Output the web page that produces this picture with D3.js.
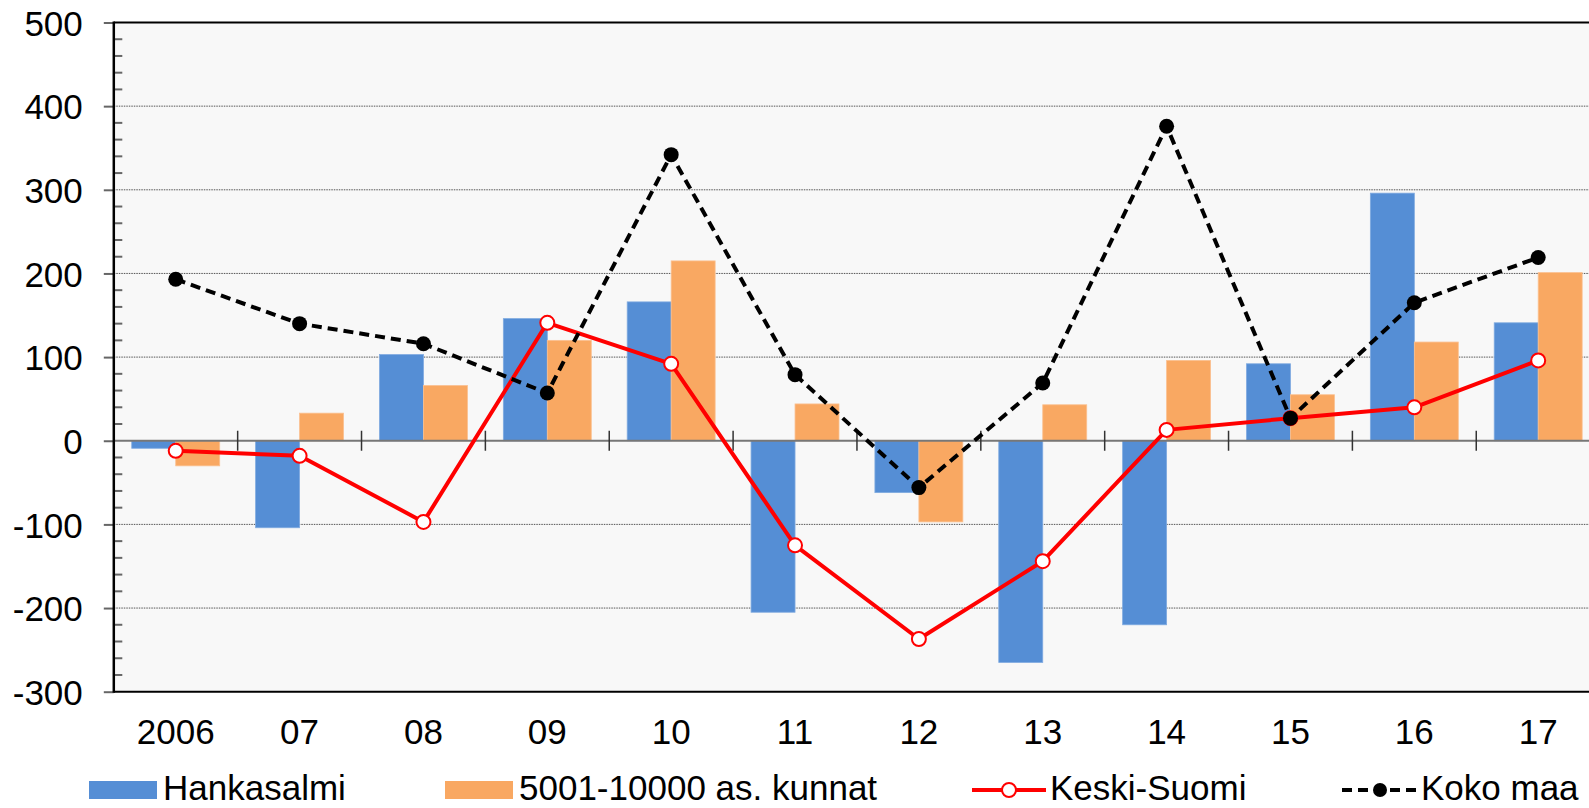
<!DOCTYPE html>
<html>
<head>
<meta charset="utf-8">
<script src="https://cdn.jsdelivr.net/npm/d3@7/dist/d3.min.js"></script>
<style>
html,body{margin:0;padding:0;background:#fff;}
svg{display:block;font-family:"Liberation Sans",Arial,sans-serif;}
</style>
</head>
<body>
<svg id="chart" width="1589" height="808"></svg>
<script>
const categories = ["2006","07","08","09","10","11","12","13","14","15","16","17"];
const hankasalmi = [-9,-104,103,146,166,-205,-62,-265,-220,92,296,141];
const kunnat = [-30,33,66,120,215,44,-97,43,96,55,118,201];
const keskiSuomi = [-12,-18,-97,141,92,-125,-237,-144,13,27,40,96];
const kokoMaa = [193,140,116,57,342,79,-56,69,376,27,165,219];
const yTicks = [500,400,300,200,100,0,-100,-200,-300];
const seriesNames = ["Hankasalmi","5001-10000 as. kunnat","Keski-Suomi","Koko maa"];

(function(){
const blue = "#558ed5", orange = "#f9a862", red = "#ff0000";
const FS = 35;
const svg = d3.select("#chart");
const pLeft = 113.8, pTop = 22.5, pBottom = 691.7;
const bandW = 123.86;
const x = d3.scaleBand().domain(categories).range([pLeft, pLeft + bandW * categories.length]).padding(0);
const y = d3.scaleLinear().domain([-300, 500]).range([pBottom, pTop]);
const cx = d => x(d) + x.bandwidth() / 2;
const barW = x.bandwidth() * 0.355;

svg.append("rect").attr("x", pLeft).attr("y", pTop).attr("width", 1589 - pLeft).attr("height", pBottom - pTop).attr("fill", "#f8f8f8");

svg.append("g").selectAll("line").data(yTicks.filter(v => v !== 0 && v !== 500 && v !== -300)).join("line")
  .attr("x1", pLeft).attr("x2", 1589).attr("y1", d => y(d)).attr("y2", d => y(d))
  .attr("stroke", "#555").attr("stroke-width", 1).attr("stroke-dasharray", "1.5,1");

const gb = svg.append("g");
gb.selectAll("rect.h").data(categories).join("rect").attr("class", "h")
  .attr("x", d => cx(d) - barW).attr("width", barW)
  .attr("y", (d, i) => y(Math.max(0, hankasalmi[i])))
  .attr("height", (d, i) => Math.abs(y(hankasalmi[i]) - y(0)))
  .attr("fill", blue).attr("stroke", "#7faae0").attr("stroke-width", 0.8);
gb.selectAll("rect.k").data(categories).join("rect").attr("class", "k")
  .attr("x", d => cx(d)).attr("width", barW)
  .attr("y", (d, i) => y(Math.max(0, kunnat[i])))
  .attr("height", (d, i) => Math.abs(y(kunnat[i]) - y(0)))
  .attr("fill", orange).attr("stroke", "#fbc090").attr("stroke-width", 0.8);

svg.append("line").attr("x1", pLeft).attr("x2", 1589).attr("y1", y(0)).attr("y2", y(0))
  .attr("stroke", "#777").attr("stroke-width", 2);

svg.append("g").selectAll("line").data(categories.slice(1)).join("line")
  .attr("x1", d => x(d)).attr("x2", d => x(d)).attr("y1", y(0) - 10).attr("y2", y(0) + 10)
  .attr("stroke", "#333").attr("stroke-width", 1.5);

const yAxis = d3.axisLeft(y).tickValues(yTicks).tickSize(10).tickFormat(d => String(d));
const ga = svg.append("g").attr("transform", `translate(${pLeft},0)`).call(yAxis);
ga.select(".domain").remove();
ga.selectAll(".tick line").attr("stroke", "#666").attr("stroke-width", 2);
ga.selectAll(".tick text").attr("font-size", FS).attr("fill", "#000").attr("x", -31).attr("dy", "0.36em")
  .attr("font-family", "Liberation Sans, Arial, sans-serif");
const minor = d3.range(-300, 501, 20).filter(v => v % 100 !== 0);
svg.append("g").selectAll("line").data(minor).join("line")
  .attr("x1", pLeft).attr("x2", pLeft + 8.5).attr("y1", d => y(d)).attr("y2", d => y(d))
  .attr("stroke", "#666").attr("stroke-width", 2);

svg.append("line").attr("x1", pLeft).attr("x2", pLeft).attr("y1", pTop - 1).attr("y2", pBottom + 1).attr("stroke", "#000").attr("stroke-width", 2.5);
svg.append("line").attr("x1", pLeft).attr("x2", 1589).attr("y1", pTop).attr("y2", pTop).attr("stroke", "#000").attr("stroke-width", 2);
svg.append("line").attr("x1", pLeft).attr("x2", 1589).attr("y1", pBottom).attr("y2", pBottom).attr("stroke", "#000").attr("stroke-width", 2);

svg.append("g").selectAll("text").data(categories).join("text")
  .attr("x", d => cx(d)).attr("y", 744).attr("text-anchor", "middle").attr("font-size", FS).text(d => d);

const line = d3.line().x(d => cx(d[0])).y(d => y(d[1]));
const ksData = categories.map((c, i) => [c, keskiSuomi[i]]);
const kmData = categories.map((c, i) => [c, kokoMaa[i]]);
svg.append("path").datum(ksData).attr("d", line).attr("fill", "none").attr("stroke", red).attr("stroke-width", 4).attr("stroke-linejoin", "round");
svg.append("g").selectAll("circle").data(ksData).join("circle")
  .attr("cx", d => cx(d[0])).attr("cy", d => y(d[1])).attr("r", 7)
  .attr("fill", "#fff").attr("stroke", red).attr("stroke-width", 2);
svg.append("path").datum(kmData).attr("d", line).attr("fill", "none").attr("stroke", "#000").attr("stroke-width", 4).attr("stroke-dasharray", "10,6");
svg.append("g").selectAll("circle").data(kmData).join("circle")
  .attr("cx", d => cx(d[0])).attr("cy", d => y(d[1])).attr("r", 7.5).attr("fill", "#000");

const lg = svg.append("g");
const ly = 790;
lg.append("rect").attr("x", 89).attr("y", 781).attr("width", 68).attr("height", 18).attr("fill", blue);
lg.append("text").attr("x", 163).attr("y", 800).attr("font-size", FS).text(seriesNames[0]);
lg.append("rect").attr("x", 445).attr("y", 781).attr("width", 68).attr("height", 18).attr("fill", orange);
lg.append("text").attr("x", 519).attr("y", 800).attr("font-size", FS).text(seriesNames[1]);
lg.append("line").attr("x1", 972).attr("x2", 1046).attr("y1", ly).attr("y2", ly).attr("stroke", red).attr("stroke-width", 4);
lg.append("circle").attr("cx", 1009).attr("cy", ly).attr("r", 7).attr("fill", "#fff").attr("stroke", red).attr("stroke-width", 2);
lg.append("text").attr("x", 1050).attr("y", 800).attr("font-size", FS).text(seriesNames[2]);
lg.append("line").attr("x1", 1342).attr("x2", 1418).attr("y1", ly).attr("y2", ly).attr("stroke", "#000").attr("stroke-width", 4).attr("stroke-dasharray", "10,6");
lg.append("circle").attr("cx", 1380).attr("cy", ly).attr("r", 7).attr("fill", "#000");
lg.append("text").attr("x", 1421).attr("y", 800).attr("font-size", FS).text(seriesNames[3]);
})();
</script>
</body>
</html>
